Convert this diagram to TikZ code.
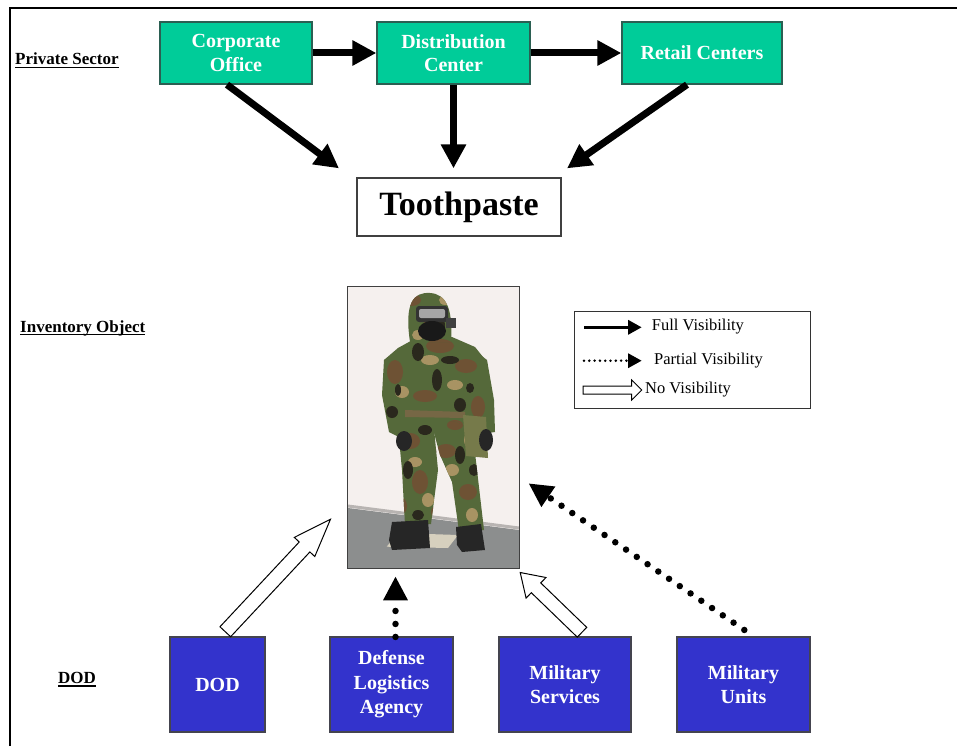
\documentclass[tikz,border=0pt]{standalone}
\usepackage{fontspec}
\setmainfont{Liberation Serif}
\usetikzlibrary{arrows.meta,calc}
\definecolor{tealf}{HTML}{00CC99}
\definecolor{tealb}{HTML}{2B5F52}
\definecolor{bluef}{HTML}{3333CC}
\definecolor{blueb}{HTML}{44444F}
\definecolor{wallc}{HTML}{F5F0EE}
\definecolor{floorc}{HTML}{8C8E8E}
\definecolor{matc}{HTML}{D6D0BE}
\definecolor{camog}{HTML}{55693A}
\definecolor{camob}{HTML}{6E5234}
\definecolor{camot}{HTML}{A89363}
\definecolor{camod}{HTML}{2A281D}
\newcommand\ulbar[1]{\setbox0=\hbox{#1}\rlap{\raisebox{-3.2pt}{\rule{\wd0}{1.5pt}}}\box0}
\newcommand\hollowarrow[5]{%
  \coordinate (hh) at ($(#2)!#4!(#1)$);
  \draw[hollow] ($(#1)!#3!90:(#2)$) -- ($(hh)!#3!90:(#2)$) -- ($(hh)!#5!90:(#2)$) -- (#2)
    -- ($(hh)!#5!-90:(#2)$) -- ($(hh)!#3!-90:(#2)$) -- ($(#1)!#3!-90:(#2)$) -- cycle;}
\newcommand\pcHood{(410,342) .. controls (404,302) and (414,292) .. (430,293) .. controls (447,294) and (453,310) .. (451,342) -- cycle}
\newcommand\pcTorso{(384,360) -- (398,348) -- (418,337) -- (452,337) -- (475,347) -- (487,362) -- (490,400) -- (487,424) -- (466,426) -- (455,421) -- (410,423) -- (392,433) -- (385,405) -- cycle}
\newcommand\pcLarm{(384,360) -- (398,352) -- (412,430) -- (401,438) -- (389,432) -- (382,395) -- cycle}
\newcommand\pcRarm{(474,350) -- (487,360) -- (494,400) -- (495,432) -- (481,434) -- (476,395) -- cycle}
\newcommand\pcLleg{(397,418) -- (433,418) -- (438,470) -- (431,524) -- (405,525) -- (402,470) -- cycle}
\newcommand\pcRleg{(430,418) -- (471,418) -- (477,470) -- (484,530) -- (459,531) -- (452,482) -- (440,455) -- cycle}
\newcommand\camoblobs{%
  \fill[camog] (380,288) rectangle (500,540);
  \foreach \cx/\cy/\rx/\ry in {412/300/9/6,440/346/14/7,395/372/8/12,466/366/11/7,425/396/12/6,478/407/7/11,410/441/10/8,446/451/10/7,420/482/8/12,468/492/9/8,438/512/7/7,400/506/7/9,430/318/8/7,455/425/8/5}
    {\fill[camob] (\cx,\cy) ellipse [x radius=\rx, y radius=\ry];}
  \foreach \cx/\cy/\rx/\ry in {430/360/9/5,402/392/7/6,455/385/8/5,470/440/6/8,415/462/7/5,452/470/7/6,428/500/6/7,472/515/6/7,445/300/6/5,418/335/6/5}
    {\fill[camot] (\cx,\cy) ellipse [x radius=\rx, y radius=\ry];}
  \foreach \cx/\cy/\rx/\ry in {418/352/6/9,450/360/9/4,437/380/5/11,392/412/6/6,460/405/6/7,425/430/7/5,408/470/5/9,460/455/5/9,418/515/6/5,474/470/5/6,440/325/5/7,398/390/3/6,470/388/4/5}
    {\fill[camod] (\cx,\cy) ellipse [x radius=\rx, y radius=\ry];}}
\tikzset{
  tealbox/.style={draw=tealb, line width=1.3pt, fill=tealf, text=white, align=center, inner sep=0pt,
    font=\bfseries\fontsize{20}{23.5}\selectfont},
  bluebox/.style={draw=blueb, line width=1.5pt, fill=bluef, text=white, align=center, inner sep=0pt,
    font=\bfseries\fontsize{20}{24.5}\selectfont},
  fullarrow/.style={line width=7pt, -{Triangle[length=24pt,width=24pt]}},
  dotarrow/.style={line width=6.5pt, line cap=round, dash pattern=on 0pt off 13pt, -{Triangle[length=24pt,width=23pt]}},
  hollow/.style={draw=black, fill=white, line width=1pt, line join=miter},
  sidelabel/.style={font=\bfseries\fontsize{17}{20}\selectfont, anchor=base west, inner sep=0pt},
  legtext/.style={font=\fontsize{16.5}{19}\selectfont, anchor=west, inner sep=0pt},
}
\begin{document}
\begin{tikzpicture}[x=1pt,y=-1pt]
\useasboundingbox (0,0) rectangle (957,746);
\fill[white] (0,0) rectangle (957,746);
% frame
\draw[line width=2.3pt] (10,746) -- (10,8.3) -- (957,8.3);
% side labels
\node[sidelabel] (lblpriv) at (15,65) {\ulbar{Private Sector}};
\node[sidelabel] (lblinv) at (20,332) {\ulbar{Inventory Object}};
\node[sidelabel] (lbldod) at (58,683.5) {\ulbar{DOD}};
% top boxes
\node[tealbox, minimum width=152pt, minimum height=62pt] (corp) at (236,53) {Corporate\\Office};
\node[tealbox, minimum width=153pt, minimum height=62pt] (dist) at (453.5,53) {Distribution\\Center};
\node[tealbox, minimum width=160pt, minimum height=62pt] (ret) at (702,53) {Retail Centers};
\node[draw=black!75, line width=1.3pt, fill=white, minimum width=204pt, minimum height=58pt, inner sep=0pt,
  font=\bfseries\fontsize{34}{40}\selectfont] (tooth) at (459,207) {Toothpaste};
\draw[fullarrow] (corp.east) -- (dist.west);
\draw[fullarrow] (dist.east) -- (ret.west);
\draw[fullarrow] ($(corp.south)+(-9,0)$) -- ($(tooth.north)+(-120,-9)$);
\draw[fullarrow] (dist.south) -- ($(dist.south|-tooth.north)+(0,-9)$);
\draw[fullarrow] ($(ret.south)+(-15,0)$) -- ($(tooth.north)+(108,-9)$);
% photo
\node[minimum width=171pt, minimum height=281pt, inner sep=0pt] (photo) at (433.5,427.5) {};
\fill[wallc] (348,287) rectangle (519,568);
\fill[floorc] (348,508) -- (519,530) -- (519,568) -- (348,568) -- cycle;
\draw[line width=3pt, color=black!25!wallc] (348,506) -- (519,528);
\fill[matc] (386.7,546.7) -- (398,533) -- (458,535) -- (448,548) -- cycle;
\begin{scope}\clip \pcLleg; \camoblobs \end{scope}
\begin{scope}\clip \pcRleg; \camoblobs \end{scope}
\begin{scope}\clip \pcLarm; \camoblobs \end{scope}
\begin{scope}\clip \pcRarm; \camoblobs \end{scope}
\begin{scope}\clip \pcTorso; \camoblobs \end{scope}
\begin{scope}\clip \pcHood; \camoblobs \end{scope}
\fill[color=camot!70!black] (405,410) -- (465,412) -- (465,418) -- (405,417) -- cycle;
\fill[color=camog!60!camot] (463,415) -- (486,417) -- (488,458) -- (466,456) -- cycle;
\fill[black!85] (404,441) ellipse [x radius=8, y radius=10];
\fill[black!85] (486,440) ellipse [x radius=7, y radius=11];
\fill[black!85] (392,522) -- (428,520) -- (430,548) -- (392,550) -- (389,540) -- cycle;
\fill[black!85] (456,527) -- (481,524) -- (485,550) -- (462,552) -- (457,545) -- cycle;
\fill[black!80, rounded corners=3pt] (416,306) rectangle (448,322);
\fill[black!35, rounded corners=2pt] (419,309) rectangle (445,318);
\fill[black!90] (432,331) ellipse [x radius=14, y radius=10];
\fill[black!75] (446,318) rectangle (456,328);
\draw[line width=1.3pt, color=black!75] (photo.north west) rectangle (photo.south east);
% legend
\node[draw=black!80, line width=1pt, minimum width=236pt, minimum height=96.6pt, inner sep=0pt] (legend) at (692,360) {};
\coordinate (lf0) at (584,327.3);
\coordinate (lf1) at (641.7,327.3);
\coordinate (lp0) at (584,360.7);
\coordinate (lp1) at (641.7,360.7);
\coordinate (ln0) at (583,390);
\coordinate (ln1) at (641.7,390);
\draw[line width=3pt, -{Triangle[length=13.5pt,width=14pt]}] (lf0) -- (lf1);
\draw[line width=2.8pt, line cap=round, dash pattern=on 0pt off 5.3pt, -{Triangle[length=13.5pt,width=14pt]}] (lp0) -- (lp1);
\hollowarrow{ln0}{ln1}{4pt}{10pt}{10pt}
\node[legtext] (tfull) at (651.7,327) {Full Visibility};
\node[legtext] (tpart) at (654,360.7) {Partial Visibility};
\node[legtext] (tnone) at (645,390) {No Visibility};
% bottom boxes
\node[bluebox, minimum width=95pt, minimum height=95pt] (dod) at (217.5,684.5) {DOD};
\node[bluebox, minimum width=123pt, minimum height=95pt] (dla) at (391.5,684.5) {Defense\\Logistics\\Agency};
\node[bluebox, minimum width=132pt, minimum height=95pt] (ms) at (565,684.5) {Military\\Services};
\node[bluebox, minimum width=133pt, minimum height=95pt] (mu) at (743.5,684.5) {Military\\Units};
% bottom arrows
\coordinate (dodtail) at ($(dod.north)+(7.8,-4.5)$);
\coordinate (dodtip) at ($(photo.south west)+(-17.3,-49)$);
\hollowarrow{dodtail}{dodtip}{7.3pt}{38pt}{14pt}
\coordinate (mstail) at ($(ms.north)+(17,-4)$);
\coordinate (mstip) at ($(photo.south east)+(1,4.3)$);
\hollowarrow{mstail}{mstip}{6.8pt}{22pt}{14.3pt}
\draw[dotarrow] ($(dla.north)+(4,0.7)$) -- ($(dla.north)+(4,-60)$);
\draw[dotarrow] ($(mu.north)+(0.8,-6.3)$) -- ($(photo.east)+(9.3,55.8)$);
\end{tikzpicture}
\end{document}
